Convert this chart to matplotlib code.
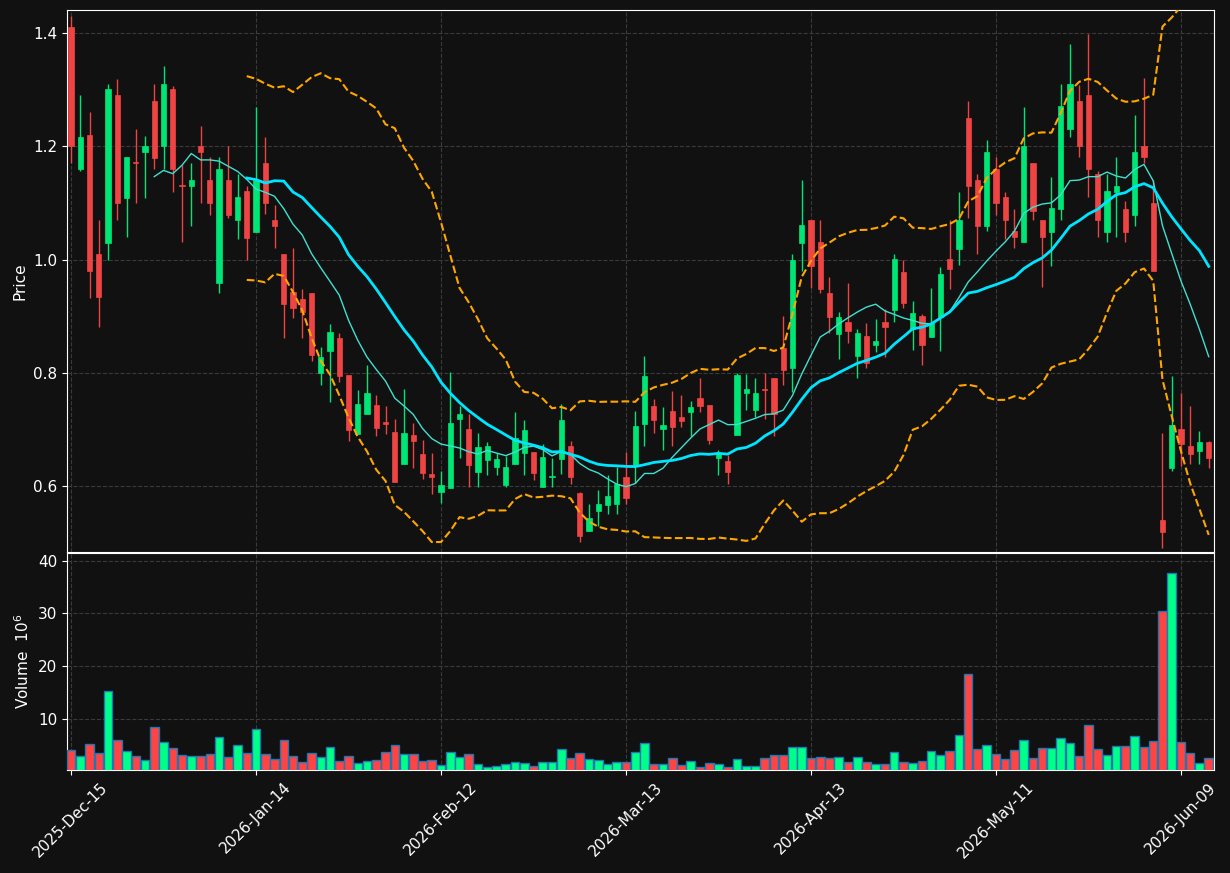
import numpy as np
import matplotlib
matplotlib.use('Agg')
import matplotlib.pyplot as plt

# daily bars (price in $, volume in millions)
opens = [1.411, 1.159, 1.220, 1.010, 1.030, 1.291, 1.109, 1.172, 1.189, 1.280,
         1.200, 1.302, 1.131, 1.129, 1.201, 1.141, 0.959, 1.141, 1.069, 1.121,
         1.049, 1.171, 1.070, 1.010, 0.942, 0.930, 0.941, 0.800, 0.839, 0.861,
         0.796, 0.692, 0.728, 0.743, 0.713, 0.695, 0.639, 0.690, 0.657, 0.621,
         0.590, 0.597, 0.719, 0.701, 0.625, 0.646, 0.634, 0.602, 0.639, 0.658,
         0.660, 0.599, 0.615, 0.648, 0.671, 0.587, 0.521, 0.555, 0.566, 0.568,
         0.615, 0.635, 0.710, 0.742, 0.700, 0.733, 0.722, 0.730, 0.756, 0.743,
         0.650, 0.645, 0.690, 0.765, 0.735, 0.772, 0.791, 0.844, 0.808, 1.030,
         1.070, 1.031, 0.941, 0.869, 0.889, 0.830, 0.865, 0.849, 0.889, 0.910,
         0.978, 0.878, 0.900, 0.864, 0.899, 1.001, 1.019, 1.250, 1.141, 1.060,
         1.160, 1.111, 1.050, 1.031, 1.171, 1.070, 1.049, 1.090, 1.230, 1.280,
         1.291, 1.151, 1.049, 1.120, 1.090, 1.079, 1.200, 1.100, 0.540, 0.631,
         0.701, 0.671, 0.662, 0.677]
highs = [1.430, 1.291, 1.261, 1.070, 1.310, 1.318, 1.181, 1.230, 1.219, 1.310,
         1.342, 1.306, 1.167, 1.171, 1.235, 1.181, 1.181, 1.200, 1.151, 1.130,
         1.270, 1.216, 1.096, 1.010, 1.020, 0.948, 0.941, 0.845, 0.886, 0.870,
         0.796, 0.769, 0.814, 0.761, 0.742, 0.719, 0.771, 0.711, 0.681, 0.659,
         0.626, 0.802, 0.741, 0.728, 0.693, 0.677, 0.658, 0.653, 0.730, 0.716,
         0.660, 0.675, 0.650, 0.744, 0.680, 0.590, 0.569, 0.593, 0.620, 0.633,
         0.660, 0.732, 0.829, 0.753, 0.739, 0.768, 0.761, 0.750, 0.790, 0.743,
         0.664, 0.655, 0.800, 0.798, 0.790, 0.799, 0.791, 0.900, 1.009, 1.140,
         1.070, 1.070, 0.969, 0.907, 0.958, 0.877, 0.887, 0.895, 0.912, 1.009,
         1.000, 0.926, 0.904, 0.950, 0.986, 1.070, 1.120, 1.280, 1.151, 1.211,
         1.181, 1.120, 1.090, 1.270, 1.171, 1.070, 1.145, 1.310, 1.380, 1.309,
         1.399, 1.157, 1.151, 1.181, 1.104, 1.255, 1.320, 1.140, 0.693, 0.795,
         0.765, 0.741, 0.697, 0.680]
lows = [1.171, 1.157, 0.932, 0.880, 1.000, 1.069, 1.039, 1.099, 1.109, 1.160,
        1.160, 1.120, 1.031, 1.060, 1.099, 1.079, 0.940, 1.074, 1.036, 1.000,
        1.049, 1.080, 1.020, 0.862, 0.896, 0.861, 0.821, 0.779, 0.749, 0.784,
        0.680, 0.692, 0.728, 0.689, 0.692, 0.607, 0.639, 0.631, 0.612, 0.585,
        0.570, 0.597, 0.650, 0.599, 0.599, 0.620, 0.619, 0.599, 0.639, 0.620,
        0.610, 0.599, 0.599, 0.622, 0.604, 0.501, 0.520, 0.530, 0.550, 0.550,
        0.569, 0.605, 0.670, 0.693, 0.664, 0.670, 0.704, 0.688, 0.730, 0.675,
        0.620, 0.604, 0.690, 0.734, 0.722, 0.719, 0.688, 0.779, 0.766, 0.979,
        0.950, 0.940, 0.871, 0.824, 0.853, 0.790, 0.808, 0.836, 0.827, 0.889,
        0.914, 0.840, 0.813, 0.864, 0.838, 0.948, 0.990, 1.074, 1.009, 1.050,
        1.079, 1.036, 1.020, 1.031, 1.070, 0.952, 0.989, 1.070, 1.216, 1.181,
        1.111, 1.040, 1.031, 1.039, 1.031, 1.060, 1.171, 0.980, 0.490, 0.627,
        0.636, 0.639, 0.639, 0.631]
closes = [1.200, 1.217, 0.980, 0.934, 1.302, 1.099, 1.181, 1.170, 1.201, 1.180,
          1.310, 1.159, 1.129, 1.141, 1.189, 1.099, 1.160, 1.079, 1.111, 1.038,
          1.141, 1.099, 1.060, 0.922, 0.915, 0.908, 0.832, 0.827, 0.872, 0.795,
          0.698, 0.744, 0.764, 0.703, 0.710, 0.607, 0.693, 0.679, 0.623, 0.616,
          0.601, 0.711, 0.728, 0.637, 0.669, 0.671, 0.647, 0.633, 0.685, 0.699,
          0.623, 0.651, 0.616, 0.716, 0.615, 0.512, 0.543, 0.569, 0.583, 0.604,
          0.579, 0.706, 0.794, 0.716, 0.708, 0.705, 0.714, 0.739, 0.742, 0.682,
          0.658, 0.625, 0.796, 0.771, 0.764, 0.770, 0.728, 0.805, 1.000, 1.061,
          0.988, 0.948, 0.899, 0.899, 0.873, 0.870, 0.817, 0.856, 0.880, 1.001,
          0.924, 0.905, 0.849, 0.888, 0.974, 0.984, 1.070, 1.129, 1.060, 1.190,
          1.099, 1.069, 1.039, 1.200, 1.085, 1.039, 1.091, 1.271, 1.310, 1.200,
          1.159, 1.069, 1.121, 1.130, 1.049, 1.190, 1.181, 0.980, 0.518, 0.708,
          0.674, 0.657, 0.677, 0.650]
volumes = [4.11, 2.97, 5.25, 3.54, 15.32, 6.01, 3.92, 2.97, 2.22, 8.48,
           5.63, 4.49, 3.16, 2.97, 2.97, 3.35, 6.58, 2.78, 5.06, 3.54,
           8.10, 3.35, 2.41, 6.01, 2.97, 1.84, 3.54, 2.78, 4.68, 2.03,
           2.97, 1.65, 2.03, 2.22, 3.73, 5.06, 3.35, 3.35, 2.03, 2.22,
           1.27, 3.73, 2.78, 3.35, 1.46, 0.89, 1.08, 1.46, 1.84, 1.65,
           1.08, 1.84, 1.84, 4.30, 2.59, 3.54, 2.41, 2.22, 1.46, 1.84,
           1.84, 3.73, 5.44, 1.46, 1.46, 2.59, 1.27, 2.03, 0.89, 1.65,
           1.46, 0.89, 2.41, 1.08, 1.08, 2.59, 3.16, 3.16, 4.68, 4.68,
           2.59, 2.78, 2.59, 2.78, 1.84, 2.78, 1.84, 1.46, 1.46, 3.73,
           1.84, 1.65, 2.03, 3.92, 3.16, 3.92, 6.96, 18.54, 4.30, 5.06,
           3.35, 2.41, 4.11, 6.01, 2.59, 4.49, 4.49, 6.39, 5.44, 2.97,
           8.86, 4.30, 3.16, 4.87, 4.87, 6.77, 4.68, 5.82, 30.44, 37.72,
           5.63, 3.54, 1.65, 2.59]
tick_labels = ['2025-Dec-15', '2026-Jan-14', '2026-Feb-12', '2026-Mar-13',
               '2026-Apr-13', '2026-May-11', '2026-Jun-09']

o = np.array(opens); h = np.array(highs); l = np.array(lows)
c = np.array(closes); v = np.array(volumes)
x = np.arange(len(c))

bg = '#111111'
up_c, down_c = '#00e676', '#ef4444'
vup_c, vdown_c = '#00ff88', '#ff4444'
grid_kw = dict(color='#3a3a3a', linestyle='--', linewidth=0.8)

def rolling(a, n, fn):
    out = np.full(len(a), np.nan)
    for i in range(n - 1, len(a)):
        out[i] = fn(a[i - n + 1:i + 1])
    return out

mav10 = rolling(c, 10, np.mean)
mav20 = rolling(c, 20, np.mean)
std20 = rolling(c, 20, np.std)
upper = mav20 + 2 * std20
lower = mav20 - 2 * std20

fig = plt.figure(figsize=(12.3, 8.73), dpi=100, facecolor=bg)
ax = fig.add_axes([0.0545, 0.3677, 0.9325, 0.6208])
axv = fig.add_axes([0.0545, 0.118, 0.9325, 0.2486], sharex=ax)

up = c >= o
cols = np.where(up, up_c, down_c)

# candles
ax.vlines(x, l, h, colors=cols, linewidth=1.0, zorder=2)
body = np.maximum(np.abs(c - o), 0.002)
ax.bar(x, body, bottom=np.minimum(o, c), width=0.55, color=cols,
       edgecolor=cols, linewidth=0.5, zorder=3)

ax.plot(x, mav10, color='#40e0d0', linewidth=1.0, zorder=4)
ax.plot(x, mav20, color='#00e5ff', linewidth=2.0, zorder=4)
ax.plot(x, upper, color='orange', linestyle='--', linewidth=1.5, zorder=4)
ax.plot(x, lower, color='orange', linestyle='--', linewidth=1.5, zorder=4)

ax.set_ylim(0.4834, 1.4406)
ax.set_ylabel('Price', color='white', fontsize=11)

# volume
axv.bar(x, v, width=0.92, color=np.where(up, vup_c, vdown_c),
        edgecolor='#1f77b4', linewidth=1.0, zorder=3)
axv.set_ylim(0.3 * v.min(), 1.1 * v.max())
axv.set_yticks([10, 20, 30, 40])
axv.set_ylabel('Volume  $10^{6}$', color='white', fontsize=11)

axv.set_xlim(-0.43, len(c) - 0.43)
axv.set_xticks(np.arange(0, len(c), 20))
axv.set_xticklabels(tick_labels, rotation=45)
plt.setp(ax.get_xticklabels(), visible=False)

for a in (ax, axv):
    a.set_facecolor(bg)
    a.grid(True, **grid_kw)
    a.set_axisbelow(True)
    a.tick_params(colors='white', labelsize=11)
    for s in a.spines.values():
        s.set_color('white')

fig.savefig('out.png', dpi=100, facecolor=bg)
